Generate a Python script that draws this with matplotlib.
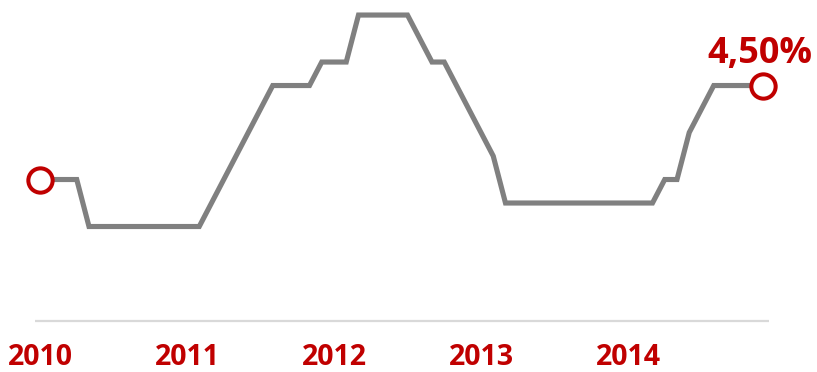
import matplotlib.pyplot as plt

# monthly policy rate, Jan 2010 .. Dec 2014
months = list(range(60))
rates = [3.50, 3.50, 3.50, 3.50, 3.00, 3.00, 3.00, 3.00, 3.00, 3.00,
         3.00, 3.00, 3.00, 3.00, 3.25, 3.50, 3.75, 4.00, 4.25, 4.50,
         4.50, 4.50, 4.50, 4.75, 4.75, 4.75, 5.25, 5.25, 5.25, 5.25,
         5.25, 5.00, 4.75, 4.75, 4.50, 4.25, 4.00, 3.75, 3.25, 3.25,
         3.25, 3.25, 3.25, 3.25, 3.25, 3.25, 3.25, 3.25, 3.25, 3.25,
         3.25, 3.50, 3.50, 4.00, 4.25, 4.50, 4.50, 4.50, 4.50, 4.50]
year_labels = ['2010', '2011', '2012', '2013', '2014']
year_pos = [0, 12, 24, 36, 48]
last_label = '4,50%'

red = '#C00000'
grey = '#808080'
font = ['Open Sans', 'DejaVu Sans']

fig = plt.figure(figsize=(8.17, 3.72), dpi=100)
ax = fig.add_axes([0, 0, 1, 1])
ax.set_xlim(-3.265, 63.43)
ax.set_ylim(1.452, 5.41)
ax.axis('off')

# light baseline under the series
ax.plot([-0.4, 59.5], [1.99, 1.99], color='#D9D9D9', lw=1.6, solid_capstyle='butt')

ax.plot(months, rates, color=grey, lw=3.7, solid_joinstyle='miter', zorder=2)

# open markers on first and last value
ax.plot([months[0], months[-1]], [rates[0], rates[-1]], 'o', ms=17.5,
        mfc='white', mec=red, mew=2.9, zorder=3)

ax.annotate(last_label, (months[-1], rates[-1]), xytext=(-2, 16),
            textcoords='offset points', ha='center', va='baseline',
            color=red, fontsize=26, fontweight='bold', family=font)

for pos, lab in zip(year_pos, year_labels):
    ax.text(pos, 0.018, lab, transform=ax.get_xaxis_transform(),
            ha='center', va='baseline', color=red, fontsize=20.5,
            fontweight='bold', family=font)

fig.savefig('out.png', dpi=100)
